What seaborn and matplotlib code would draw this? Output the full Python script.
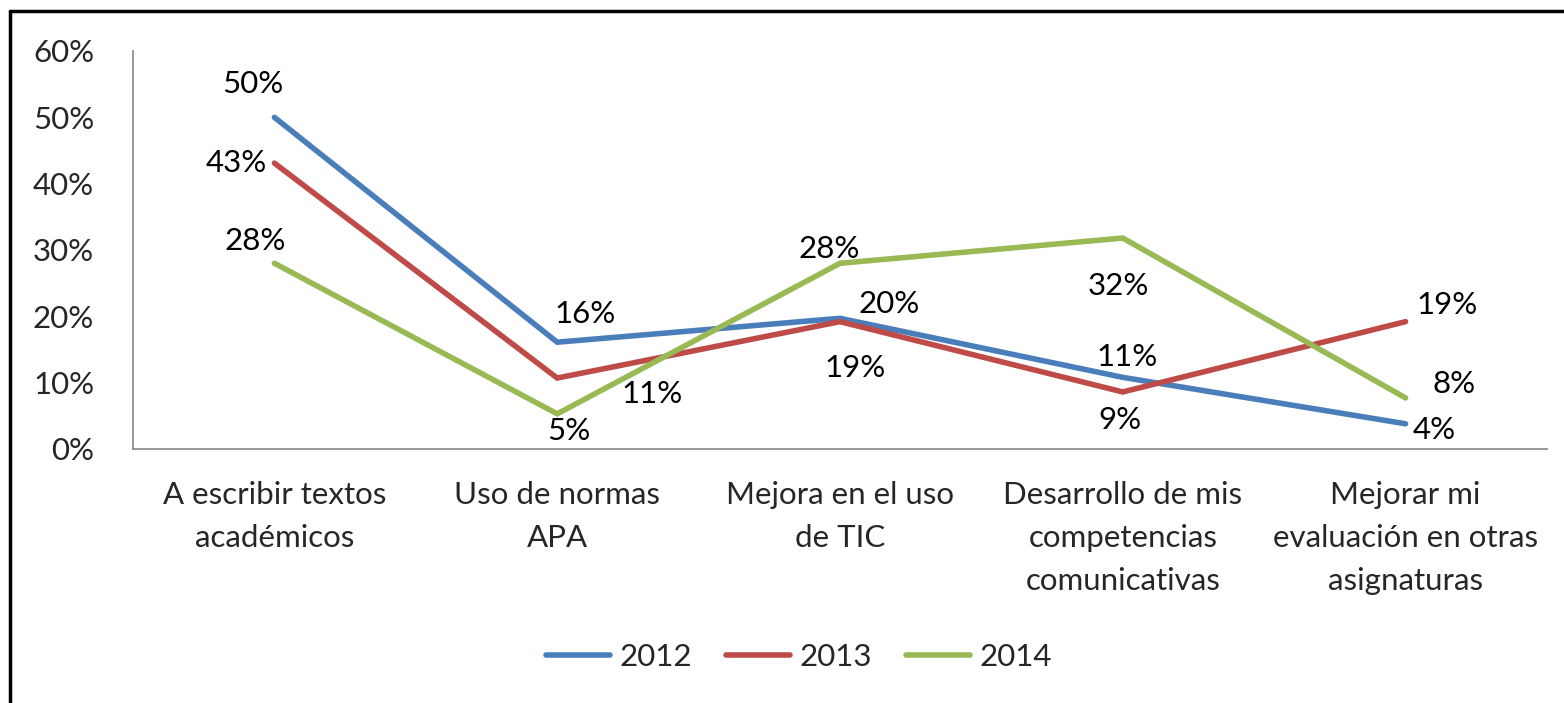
import numpy as np
import pandas as pd
import matplotlib
matplotlib.use("Agg")
import matplotlib.pyplot as plt
from matplotlib.lines import Line2D
import seaborn as sns

# Data
categories = ["A escribir textos\nacadémicos", "Uso de normas\nAPA", "Mejora en el uso\nde TIC",
              "Desarrollo de mis\ncompetencias\ncomunicativas", "Mejorar mi\nevaluación en otras\nasignaturas"]
years = ["2012", "2013", "2014"]
v2012 = [0.50, 0.161, 0.197, 0.108, 0.038]
v2013 = [0.431, 0.107, 0.192, 0.086, 0.192]
v2014 = [0.280, 0.053, 0.280, 0.318, 0.077]
yticks = [0, 0.1, 0.2, 0.3, 0.4, 0.5, 0.6]

colors = {"2012": "#4A7EBB", "2013": "#BE4B48", "2014": "#98B954"}

# label offsets in pixels (dx, dy upward)
offsets = {
    "2012": [(-22, 33), (28, 28), (49, 14), (4, 20), (29, -6)],
    "2013": [(-38, 0), (95, -16), (15, -46), (-3, -28), (41, 17)],
    "2014": [(-19, 22), (12, -17), (-11, 14), (-4, -48), (48, 14)],
}

df = pd.DataFrame({
    "cat": list(range(5)) * 3,
    "value": v2012 + v2013 + v2014,
    "year": [y for y in years for _ in range(5)],
})

sns.set_style("white")
plt.rcParams["font.family"] = ["Lato", "DejaVu Sans"]
fs = 22.5

fig = plt.figure(figsize=(15.64, 7.03), dpi=100)
ax = fig.add_axes([133 / 1564, 254 / 703, 1414 / 1564, 398 / 703])

sns.lineplot(data=df, x="cat", y="value", hue="year", palette=colors, linewidth=4,
             ax=ax, legend=False, solid_joinstyle="miter")

for y, vals in zip(years, [v2012, v2013, v2014]):
    for i, v in enumerate(vals):
        dx, dy = offsets[y][i]
        ax.annotate(f"{v:.0%}", (i, v), xytext=(dx, dy), textcoords="offset pixels",
                    ha="center", va="center", fontsize=fs, color="black")

ax.set_xlim(-0.5, 4.5)
ax.set_ylim(0, 0.6)
ax.set_yticks(yticks)
ax.set_yticklabels([f"{t:.0%}" for t in yticks], fontsize=fs)
ax.set_xticks(range(5))
ax.set_xticklabels(categories, fontsize=fs, linespacing=1.65)
ax.set_xticks(np.arange(-0.5, 5, 1), minor=True)
ax.tick_params(axis="x", which="major", length=0, pad=23)
ax.tick_params(axis="x", which="minor", length=8, width=1.2, color="#868686", direction="out")
ax.tick_params(axis="y", length=8, width=1.2, color="#868686", direction="out", pad=20)
ax.set_xlabel("")
ax.set_ylabel("")
for s in ["top", "right"]:
    ax.spines[s].set_visible(False)
for s in ["left", "bottom"]:
    ax.spines[s].set_color("#868686")
    ax.spines[s].set_linewidth(1.2)

handles = [Line2D([0], [0], color=colors[y], linewidth=4) for y in years]
fig.legend(handles, years, loc="center", bbox_to_anchor=(799 / 1564, 1 - 657 / 703), ncol=3,
           frameon=False, fontsize=fs, handlelength=2.05, columnspacing=1.1, handletextpad=0.3)

# outer frame (left and top edges)
fig.add_artist(Line2D([10 / 1564, 10 / 1564], [0, 1 - 11 / 703], color="black", linewidth=2.5,
                      transform=fig.transFigure))
fig.add_artist(Line2D([10 / 1564, 1], [1 - 11 / 703, 1 - 11 / 703], color="black", linewidth=2.5,
                      transform=fig.transFigure))

plt.savefig("out.png", dpi=100)
